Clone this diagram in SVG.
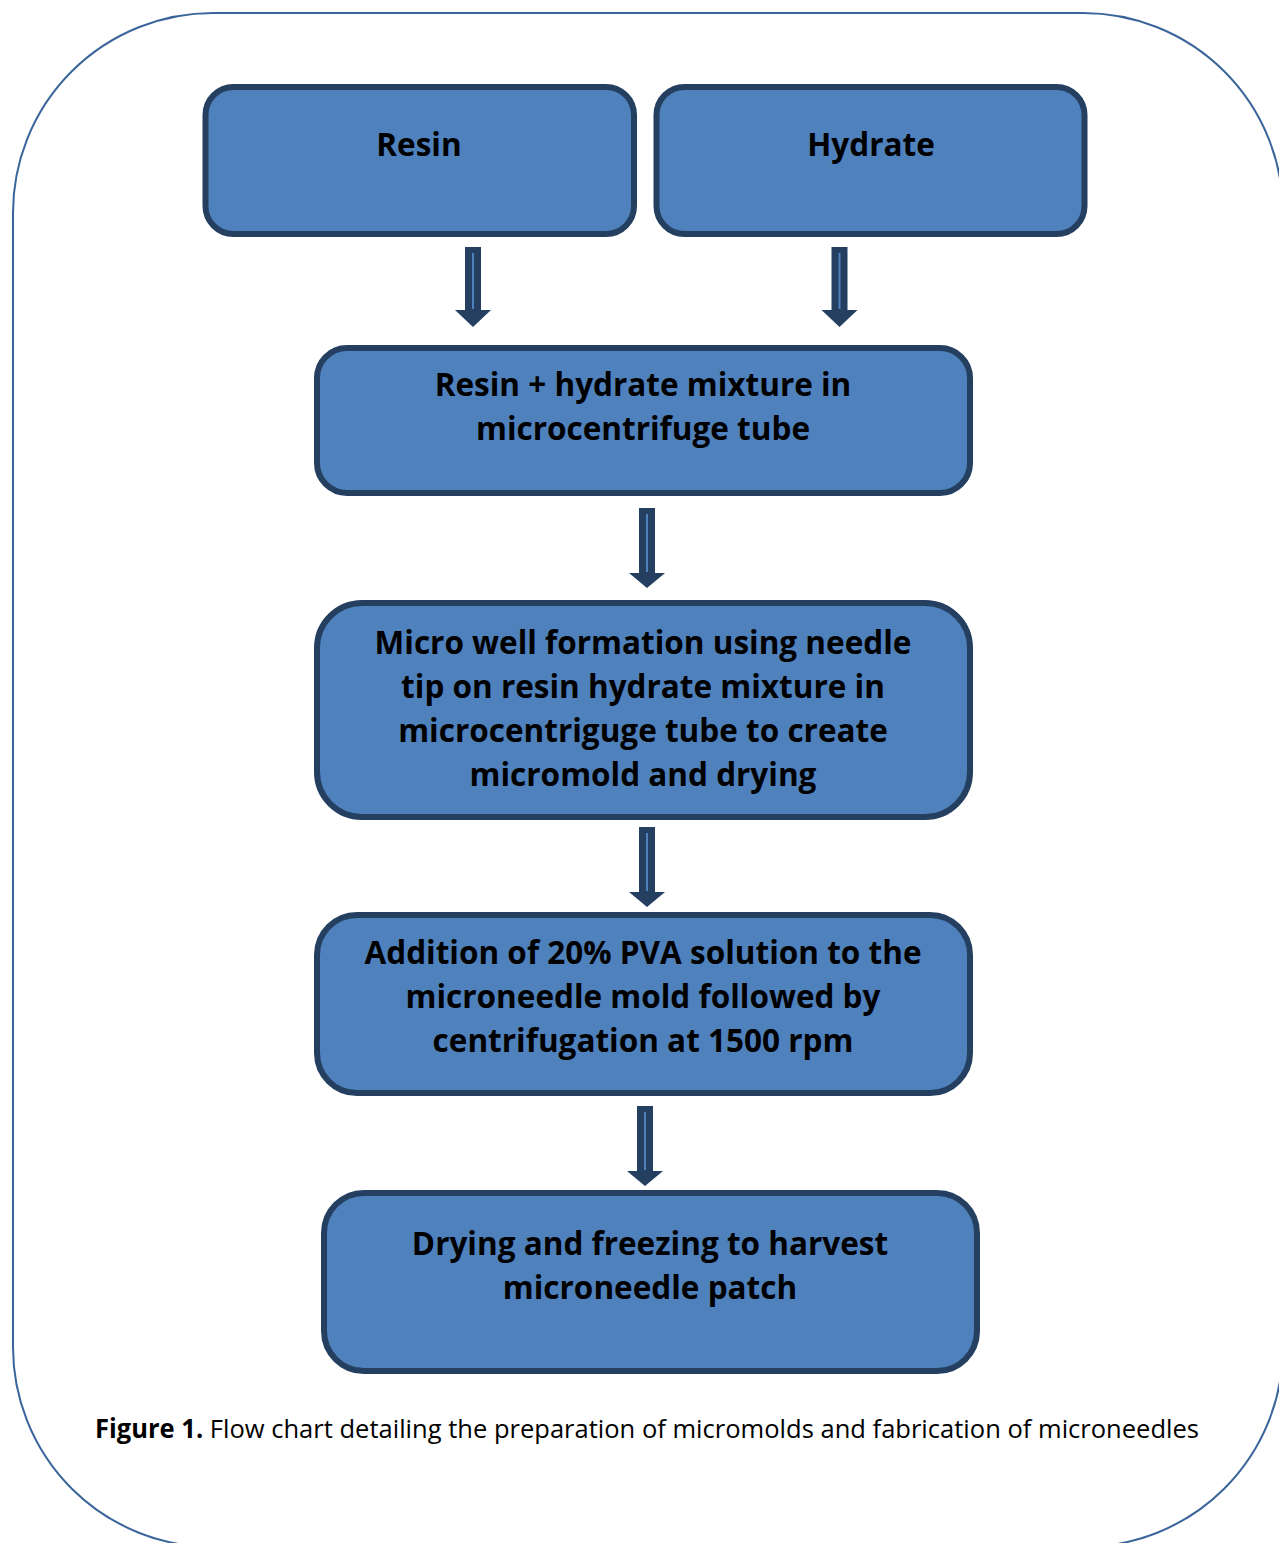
<svg xmlns="http://www.w3.org/2000/svg" width="1279" height="1543" viewBox="0 0 1279 1543">
<style>
.box{fill:#4F81BD;stroke:#243F60;stroke-width:6}
.t{font-family:"Open Sans","DejaVu Sans",sans-serif;font-weight:bold;font-size:31.5px;fill:#000;text-anchor:middle}
.arr{fill:#243F60}
.in{stroke:#4F81BD;stroke-width:2}
.cap{font-family:"Open Sans","Liberation Sans",sans-serif;font-size:26px;fill:#000}
</style>
<rect x="0" y="0" width="1279" height="1543" fill="#fff"/>
<rect id="frame" x="13" y="13" width="1270" height="1534" rx="200" fill="none" stroke="#3A659B" stroke-width="2"/>
<g id="resin"><rect class="box" x="205.5" y="87" width="428.5" height="147" rx="28"/><text class="t" x="419" y="156">Resin</text></g>
<g id="hydrate"><rect class="box" x="656.5" y="87" width="428" height="147" rx="28"/><text class="t" x="871" y="156">Hydrate</text></g>
<g id="mixture"><rect class="box" x="317" y="348" width="653" height="145" rx="30"/><text class="t" x="643" y="396">Resin + hydrate mixture in</text><text class="t" x="643" y="440">microcentrifuge tube</text></g>
<g id="microwell"><rect class="box" x="317" y="603" width="653" height="214" rx="45"/><text class="t" x="643" y="654">Micro well formation using needle</text><text class="t" x="643" y="698">tip on resin hydrate mixture in</text><text class="t" x="643" y="742">microcentriguge tube to create</text><text class="t" x="643" y="786">micromold and drying</text></g>
<g id="pva"><rect class="box" x="317" y="915" width="653" height="178" rx="40"/><text class="t" x="643" y="964">Addition of 20% PVA solution to the</text><text class="t" x="643" y="1008">microneedle mold followed by</text><text class="t" x="643" y="1052">centrifugation at 1500 rpm</text></g>
<g id="harvest"><rect class="box" x="324" y="1193" width="653" height="178" rx="40"/><text class="t" x="650" y="1255">Drying and freezing to harvest</text><text class="t" x="650" y="1299">microneedle patch</text></g>
<g id="connectors">
<g transform="translate(473,247)"><polygon class="arr" points="-8,0 8,0 8,63 18,63 0,80 -18,63 -8,63"/><line class="in" x1="0" y1="6" x2="0" y2="62"/></g>
<g transform="translate(839.5,247)"><polygon class="arr" points="-8,0 8,0 8,63 18,63 0,80 -18,63 -8,63"/><line class="in" x1="0" y1="6" x2="0" y2="62"/></g>
<g transform="translate(647,508)"><polygon class="arr" points="-8,0 8,0 8,65 18,65 0,80 -18,65 -8,65"/><line class="in" x1="0" y1="6" x2="0" y2="64"/></g>
<g transform="translate(647,827)"><polygon class="arr" points="-8,0 8,0 8,65 18,65 0,80 -18,65 -8,65"/><line class="in" x1="0" y1="6" x2="0" y2="64"/></g>
<g transform="translate(645,1106)"><polygon class="arr" points="-8,0 8,0 8,65 18,65 0,80 -18,65 -8,65"/><line class="in" x1="0" y1="6" x2="0" y2="64"/></g>
</g>
<text class="cap" x="95" y="1438" textLength="1104" lengthAdjust="spacingAndGlyphs"><tspan font-weight="bold">Figure 1.</tspan> Flow chart detailing the preparation of micromolds and fabrication of microneedles</text>
</svg>
